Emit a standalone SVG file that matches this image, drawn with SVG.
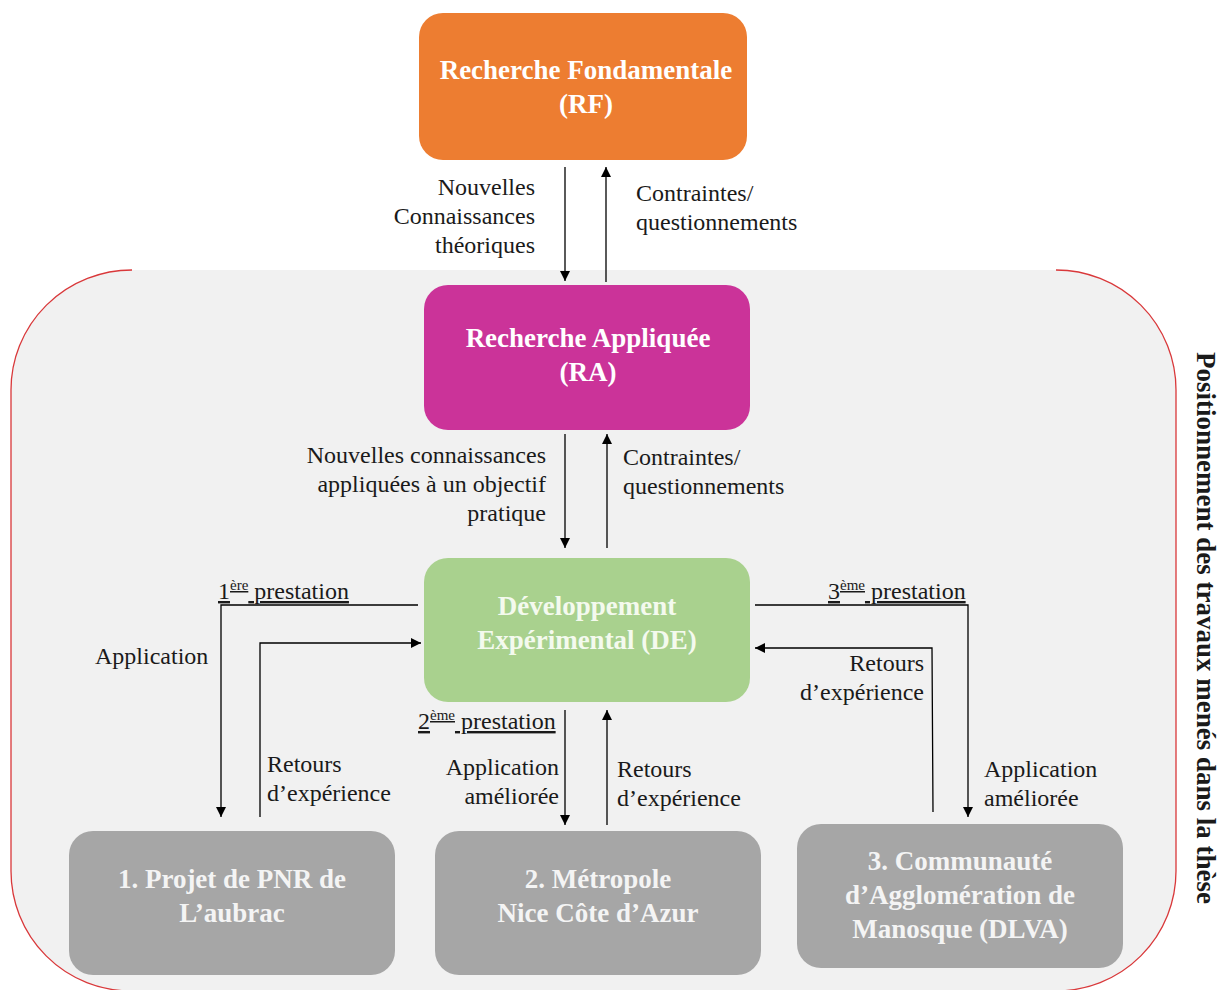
<svg xmlns="http://www.w3.org/2000/svg" width="1222" height="990" viewBox="0 0 1222 990">
<defs>
<marker id="ah" viewBox="0 0 10 10" refX="10" refY="5" markerWidth="10" markerHeight="10" markerUnits="userSpaceOnUse" orient="auto">
<path d="M0,0 L10,5 L0,10 Z" fill="#000"/>
</marker>
<style>
.box{stroke:none}
.bt{font-family:"Liberation Serif","DejaVu Serif",serif;font-weight:bold;font-size:27px;text-anchor:middle}
.lb{font-family:"Liberation Serif","DejaVu Serif",serif;font-size:24px;fill:#1a1a1a}
.r{text-anchor:end}
.sup{font-size:15px}
.u{text-decoration:underline}
.c{fill:none;stroke:#000;stroke-width:1.3;marker-end:url(#ah)}
</style>
</defs>
<rect width="1222" height="990" fill="#fff"/>
<g id="frame">
<rect x="11" y="270" width="1165" height="721" rx="120" ry="120" fill="#f1f1f1" stroke="none"/>
<path d="M132,270 A121,120 0 0 0 11,390 L11,871 A120,120 0 0 0 131,991 L1056,991 A120,120 0 0 0 1176,871 L1176,390 A120,120 0 0 0 1056,270" fill="none" stroke="#d9383a" stroke-width="1.3"/>
<text x="0" y="0" transform="translate(1197,628) rotate(90)" font-family="Liberation Serif,serif" font-weight="bold" font-size="27" text-anchor="middle" fill="#1a1a1a">Positionnement des travaux menés dans la thèse</text>
</g>
<g id="connectors">
<line class="c" x1="565" y1="167" x2="565" y2="281"/>
<line class="c" x1="606" y1="282" x2="606" y2="167"/>
<line class="c" x1="565" y1="434" x2="565" y2="548"/>
<line class="c" x1="607" y1="548" x2="607" y2="434"/>
<polyline class="c" points="418,605 221,605 221,817"/>
<polyline class="c" points="260,817 260,643 421,643"/>
<line class="c" x1="565" y1="710" x2="565" y2="825"/>
<line class="c" x1="607" y1="825" x2="607" y2="710"/>
<polyline class="c" points="755,605 968,605 968,817"/>
<polyline class="c" points="933,812 932,648 755,648"/>
</g>
<g id="labels">
<text class="lb r" x="535" y="195">Nouvelles</text>
<text class="lb r" x="535" y="224">Connaissances</text>
<text class="lb r" x="535" y="253">théoriques</text>
<text class="lb" x="636" y="201">Contraintes/</text>
<text class="lb" x="636" y="230">questionnements</text>
<text class="lb r" x="546" y="463">Nouvelles connaissances</text>
<text class="lb r" x="546" y="492">appliquées à un objectif</text>
<text class="lb r" x="546" y="521">pratique</text>
<text class="lb" x="623" y="465">Contraintes/</text>
<text class="lb" x="623" y="494">questionnements</text>
<text class="lb u" x="218" y="599">1<tspan class="sup" dy="-9">ère</tspan><tspan dy="9"> prestation</tspan></text>
<text class="lb" x="95" y="664">Application</text>
<text class="lb" x="267" y="772">Retours</text>
<text class="lb" x="267" y="801">d’expérience</text>
<text class="lb u" x="418" y="729">2<tspan class="sup" dy="-9">ème</tspan><tspan dy="9"> prestation</tspan></text>
<text class="lb r" x="559" y="775">Application</text>
<text class="lb r" x="559" y="804">améliorée</text>
<text class="lb" x="617" y="777">Retours</text>
<text class="lb" x="617" y="806">d’expérience</text>
<text class="lb u" x="828" y="599">3<tspan class="sup" dy="-9">ème</tspan><tspan dy="9"> prestation</tspan></text>
<text class="lb r" x="924" y="671">Retours</text>
<text class="lb r" x="924" y="700">d’expérience</text>
<text class="lb" x="984" y="777">Application</text>
<text class="lb" x="984" y="806">améliorée</text>
</g>
<g id="rf">
<rect class="box" x="419" y="13" width="328" height="147" rx="24" fill="#ed7d31"/>
<text class="bt" x="586" y="79" fill="#fff">Recherche Fondamentale</text>
<text class="bt" x="586" y="113" fill="#fff">(RF)</text>
</g>
<g id="ra">
<rect class="box" x="424" y="285" width="326" height="145" rx="24" fill="#cb3399"/>
<text class="bt" x="588" y="347" fill="#fff">Recherche Appliquée</text>
<text class="bt" x="588" y="381" fill="#fff">(RA)</text>
</g>
<g id="de">
<rect class="box" x="424" y="558" width="326" height="144" rx="24" fill="#a9d18e"/>
<text class="bt" x="587" y="615" fill="#f4faee">Développement</text>
<text class="bt" x="587" y="649" fill="#f4faee">Expérimental (DE)</text>
</g>
<g id="p1">
<rect class="box" x="69" y="831" width="326" height="144" rx="24" fill="#a6a6a6"/>
<text class="bt" x="232" y="888" fill="#f4f4f4">1. Projet de PNR de</text>
<text class="bt" x="232" y="922" fill="#f4f4f4">L’aubrac</text>
</g>
<g id="p2">
<rect class="box" x="435" y="831" width="326" height="144" rx="24" fill="#a6a6a6"/>
<text class="bt" x="598" y="888" fill="#f4f4f4">2. Métropole</text>
<text class="bt" x="598" y="922" fill="#f4f4f4">Nice Côte d’Azur</text>
</g>
<g id="p3">
<rect class="box" x="797" y="824" width="326" height="144" rx="24" fill="#a6a6a6"/>
<text class="bt" x="960" y="870" fill="#f4f4f4">3. Communauté</text>
<text class="bt" x="960" y="904" fill="#f4f4f4">d’Agglomération de</text>
<text class="bt" x="960" y="938" fill="#f4f4f4">Manosque (DLVA)</text>
</g>
</svg>
